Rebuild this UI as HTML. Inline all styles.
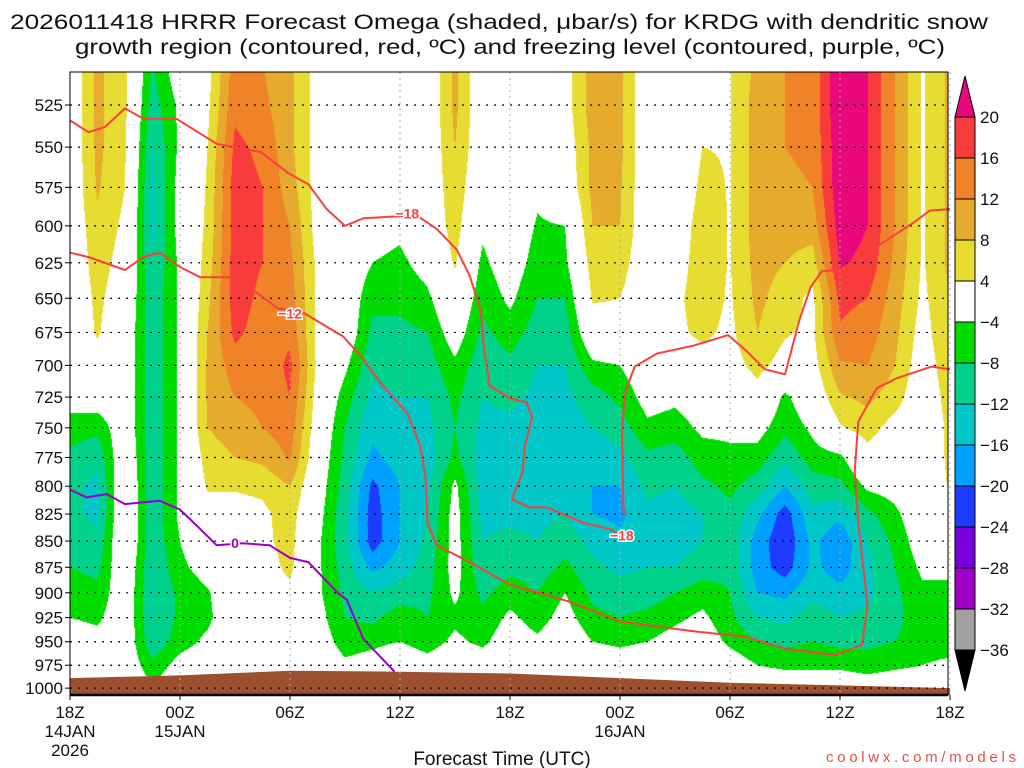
<!DOCTYPE html>
<html><head><meta charset="utf-8"><title>HRRR Omega KRDG</title>
<style>
html,body{margin:0;padding:0;background:#fff;}
#wrap{position:relative;width:1024px;height:768px;overflow:hidden;font-family:"Liberation Sans",sans-serif;}
#field{position:absolute;left:70px;top:72px;}
#ov{position:absolute;left:0;top:0;}
</style></head>
<body>
<div id="wrap">
<canvas id="field" width="878" height="623"></canvas>
<svg id="ov" width="1024" height="768" xmlns="http://www.w3.org/2000/svg"></svg>
</div>
<script>
// ---- data ----
const colHours=[0,1.5,3,4.5,6,7.5,9,10.5,12,13.5,15,16.5,18,19.5,21,22.5,24,25.5,27,28.5,30,31.5,33,34.5,36,37.5,39,40.5,42,43.5,45,46.5,48];
const levels=[500,525,550,575,600,625,650,675,700,725,750,775,800,825,850,875,900,925,950,975,1000];
const omegaCols=[
[0,0,0,0,0,0,0,0,0,-2,-6,-9,-11,-11,-10,-8,-6,-4,-1,0,0],
[9,9,9,8.5,7,6,5,4.5,2,-1,-7,-11,-13,-13,-11,-9,-7,-5,-2,0,0],
[5,5,4.5,4,3,2,1,0,0,0,0,1,2,2,2,1,0,0,0,0,0],
[-8,-10,-12,-13,-13,-12,-11,-11,-11,-11,-11,-11,-11,-11,-11,-12,-12,-12,-11,-7,-3],
[0,-3,-3,-2,-2,-3,-3,-3,-3,-3,-3,-3,-3,-3,-4,-5,-7,-7,-6,-2,0],
[2,3,4,4.5,5,6,7,8,8.5,8.5,8,6,4.5,2,0,-2,-4.5,-5,-3,0,0],
[14,15,17,18,18,18,18,17,14,12,10,8,4.5,2,0,0,0,0,0,0,0],
[12,13,15,16,16,16,15,14,13,13,12,9,5,3,3,2,1,0,0,0,0],
[9,9,9,10,12,13,14,15,17,16,14,12.5,8,6,5.5,5,3,0,0,0,0],
[2,2,2,2,2,3,3,3,3,2,1,0,-1,-2,-3,-3,-3,-2,-1,0,0],
[0,0,0,0,0,0,0,0,-3,-6,-8,-9,-10,-11,-11,-10,-9,-8,-6,-3,0],
[0,0,0,0,-2,-4,-7,-9,-11,-13,-15,-17,-21,-22,-22,-17,-12,-9,-5,-2,0],
[0,0,0,0,-3,-5,-7,-9,-11,-12,-13,-14,-16,-16,-16,-14,-10,-6,-4,0,0],
[0,0,0,0,0,-2,-5,-8,-10,-12,-13,-14,-13,-12,-11,-10,-9,-8,-6,-2,0],
[9,9,8,7,6,4.5,2,-1,-5,-7,-8,-7,-3,-2,-2,-2,-3,-5,-3,0,0],
[0,0,0,-1,-3,-5,-7,-9,-11,-12,-13,-14,-14,-13,-12,-11,-9,-7,-5,-1,0],
[0,0,0,0,0,-1,-3,-6,-9,-11,-13,-14,-14,-13,-11,-9,-6,-3,-1,0,0],
[0,0,0,-3,-4.5,-6,-8,-10,-12,-13,-14,-15,-14,-13,-12,-10,-8,-6,-3,0,0],
[2,2,1,0,-4,-5,-8,-10,-12,-13,-14,-14,-13,-12,-10,-7,-4,-2,0,0,0],
[10,10,9,9,8,6,4.5,1,-5,-10,-12,-15,-16,-16,-13,-11,-9,-7,-4,0,0],
[9,9,9,8.5,8,6,4,2,-4,-7,-10,-13,-16,-17,-15,-13,-10,-8,-5,-1,0],
[0,0,0,0,0,0,0,0,0,-2,-5,-9,-11,-13,-13,-12,-10,-7,-4,0,0],
[0,0,0,0,1,2,3,3,1,-3,-6,-10,-12,-14,-14,-12,-8,-5,-2,0,0],
[0,2,4,5,6,6,6,5,2,-1,-3,-6,-9,-12,-12,-10,-6,-3,-1,0,0],
[3.8,3.8,3.8,3.8,3.8,3.8,3.5,3,2,-1,-3,-5,-7,-9,-9,-9,-8,-7,-5,-1,0],
[9,10,10,10,10,9.5,9,8,5.5,2,-2,-6,-10,-15,-18,-18,-16,-12,-8,-4,0],
[12,12,12,11,10,8,6,4.5,2,-5,-7,-11,-16,-22,-23,-22,-17,-13,-9,-5,0],
[13,13,13,12,10,6,3,3,2,0,-3,-6,-10,-13,-15,-15,-13,-10,-8,-5,0],
[24,24,23,23,22,20.5,17,15.5,11.5,7.5,3.5,-5,-9,-15,-19,-18,-15,-12,-9,-5,0],
[20,20,20,20,20,19,16,14,12,9,6,2,-3,-9,-12,-13,-13,-11,-9,-6,-1],
[12,12,12,12,12,11,10,9,8,6,2,0,-2,-5,-7,-8,-9,-9,-8,-5,0],
[3.5,3.5,3.5,3.5,3.5,3.5,3,2,1,0,0,0,0,0,-1,-3,-5,-6,-6,-4,0],
[9,9,9,9,9,9,8,8,7,6,5,5,4.5,2,0,-3,-5,-6,-6,-3,0]
];
const isoUpperHours=[0,1,1.9,3,4,5.8,8,10.4,11.9,13,14,15,16,18.9,20,21.1,21.8,22.4,22.6,22.9,24,24.9,25.2,24.8,24.7,24.1,25.1,26,28,29.5,30];
const isoUpperPres=[534,541,538,527,533,533,548,553,566,573,589,600,595,593,602,616,634,659,689,716,726,729,742,765,787,812,819,819,833,839,845];
const isoUpper2Hours=[30.2,30.1,30.3,30.8,32,34,35.9,36.9,37.9,39,39.8,40.4,41,42.7,44,46,46.9,48];
const isoUpper2Pres=[826,752,720,701,691,685,677,689,703,707,665,642,631,629,614,598,590,589];
const isoLowerHours=[0,1,3,4,4.9,6,7.1,8.9,10.3,11.3,12.8,14.9,15.8,17,18.4,19.1,19.4,19.5,20,21.8,24,27.1,30,34,36.9,39.1,41.8,43.2,43.5,43,42.8,43,44,45.1,47,48];
const isoLowerPres=[618,621,630,621,618,628,635,635,647,657,661,678,692,715,738,765,794,833,854,870,892,908,929,939,945,958,964,953,912,833,787,745,718,710,701,703];
const frzHours=[0,0.9,2,3,4.9,6,7,8,9.4,10.9,12,13,14.6,15.1,16,17.7];
const frzPres=[803,810,807,816,813,821,837,854,852,854,866,870,900,907,947,982];
const terrainHours=[0,6,12,18,24,30,36,42,48];
const terrainPres=[989,986,981,982,984,989,994,997,1000];
const yTickLabels=[525,550,575,600,625,650,675,700,725,750,775,800,825,850,875,900,925,950,975,1000];
const xTickHours=[0,6,12,18,24,30,36,42,48];
const xTickLine1=["18Z","00Z","06Z","12Z","18Z","00Z","06Z","12Z","18Z"];
const xTickLine2=["14JAN","15JAN","","","","16JAN","","",""];
const xTickLine3=["2026","","","","","","","",""];
const cbarLabels=["20","16","12","8","4","\u22124","\u22128","\u221212","\u221216","\u221220","\u221224","\u221228","\u221232","\u221236"];
const cbarColors=["#f83c3c","#f08228","#e6aa2d","#e6dc32","#ffffff","#00dc00","#00d28c","#00c8c8","#00a0ff","#1e3cff","#7800dc","#a000c8","#a0a0a0"];

// ---- axes ----
const X0=70,X1=948,Y0=72,Y1=695;
function xOf(h){return 70+h*110/6;}
function yOf(p){return 105+905*Math.log(p/525);}
function hOf(x){return (x-70)*6/110;}
function pOf(y){return 525*Math.exp((y-105)/905);}

function colorFor(v){
  if(v>=20)return[232,8,124];
  if(v>=16)return[248,60,60];
  if(v>=12)return[240,130,40];
  if(v>=8)return[230,170,45];
  if(v>=4)return[230,220,50];
  if(v>-4)return null;
  if(v>-8)return[0,220,0];
  if(v>-12)return[0,210,140];
  if(v>-16)return[0,200,200];
  if(v>-20)return[0,160,255];
  if(v>-24)return[30,60,255];
  if(v>-28)return[120,0,220];
  return[160,0,200];
}
function sample(h,p){
  let ci=0;while(ci<colHours.length-2&&h>colHours[ci+1])ci++;
  let tc=(h-colHours[ci])/(colHours[ci+1]-colHours[ci]);tc=Math.max(0,Math.min(1,tc));
  let ri=0;while(ri<levels.length-2&&p>levels[ri+1])ri++;
  let tr=(p-levels[ri])/(levels[ri+1]-levels[ri]);tr=Math.max(0,Math.min(1,tr));
  const a=omegaCols[ci][ri],b=omegaCols[ci+1][ri],c=omegaCols[ci][ri+1],d=omegaCols[ci+1][ri+1];
  return (a*(1-tc)+b*tc)*(1-tr)+(c*(1-tc)+d*tc)*tr;
}
(function(){
  const cv=document.getElementById('field');const ctx=cv.getContext('2d');
  const W=cv.width,H=cv.height;const img=ctx.createImageData(W,H);
  for(let py=0;py<H;py++){const p=pOf(Y0+py+0.5);
    for(let px=0;px<W;px++){const h=hOf(X0+px+0.5);const col=colorFor(sample(h,p));
      const k=(py*W+px)*4;
      if(col){img.data[k]=col[0];img.data[k+1]=col[1];img.data[k+2]=col[2];}
      else{img.data[k]=255;img.data[k+1]=255;img.data[k+2]=255;}
      img.data[k+3]=255;}}
  ctx.putImageData(img,0,0);
})();

const NS="http://www.w3.org/2000/svg";
const svg=document.getElementById('ov');
function mk(tag,attrs,parent){const e=document.createElementNS(NS,tag);for(const k in attrs)e.setAttribute(k,attrs[k]);(parent||svg).appendChild(e);return e;}

// terrain
let tp=`M${xOf(terrainHours[0])},${Y1}`;
terrainHours.forEach((h,i)=>{tp+=` L${xOf(h)},${yOf(terrainPres[i])}`;});
tp+=` L${xOf(terrainHours[terrainHours.length-1])},${Y1} Z`;
const terr=mk('path',{d:tp,fill:'#9c5030'});



// grid
const grid=mk('g',{});


yTickLabels.forEach(p=>{const y=yOf(p);
  mk('line',{x1:X0,x2:X1,y1:y,y2:y,stroke:'#000','stroke-width':1.2,'stroke-dasharray':'2,6'},grid);});
xTickHours.forEach(h=>{const x=xOf(h);
  mk('line',{x1:x,x2:x,y1:Y0,y2:Y1,stroke:'#aaa','stroke-width':1,'stroke-dasharray':'2,4'},grid);});

// contour lines
function poly(hs,ps,color,name){
  const pts=hs.map((h,i)=>xOf(h).toFixed(1)+','+yOf(ps[i]).toFixed(1)).join(' ');
  const e=mk('polyline',{points:pts,fill:'none',stroke:color,'stroke-width':2,'stroke-linejoin':'round'});
  
  
}
poly(isoUpperHours,isoUpperPres,'#f84040','isotherm-minus18-west');
poly(isoUpper2Hours,isoUpper2Pres,'#f84040','isotherm-minus18-east');
poly(isoLowerHours,isoLowerPres,'#f84040','isotherm-minus12');
poly(frzHours,frzPres,'#9a00c8','freezing-level-line');
function clabel(h,p,t,color,name){
  const e=mk('text',{x:xOf(h),y:yOf(p)+5,'text-anchor':'middle','font-size':14,'font-weight':'bold',fill:color,stroke:'#fff','stroke-width':3,'paint-order':'stroke'});
  e.textContent=t;
}
clabel(18.4,592,'\u221218','#f84040','label-minus18-a');
clabel(12,661,'\u221212','#f84040','label-minus12');
clabel(30.1,845,'\u221218','#f84040','label-minus18-b');
clabel(9,852,'0','#9a00c8','label-freezing-0');

// frame
const fr=mk('rect',{x:X0,y:Y0,width:X1-X0,height:Y1-Y0,fill:'none',stroke:'#000','stroke-width':1});

mk('line',{x1:X0,x2:X1,y1:Y1,y2:Y1,stroke:'#000','stroke-width':2.5});

// y axis
const ya=mk('g',{});
yTickLabels.forEach(p=>{const y=yOf(p);
  mk('line',{x1:X0-5,x2:X0,y1:y,y2:y,stroke:'#000','stroke-width':1},ya);
  const t=mk('text',{x:X0-7,y:y+6,'text-anchor':'end','font-size':17,fill:'#111'},ya);t.textContent=p;});

// x axis
const xa=mk('g',{});
xTickHours.forEach((h,i)=>{const x=xOf(h);
  mk('line',{x1:x,x2:x,y1:Y1,y2:Y1+5,stroke:'#000','stroke-width':1},xa);
  [xTickLine1[i],xTickLine2[i],xTickLine3[i]].forEach((s,j)=>{if(!s)return;
    const t=mk('text',{x:x,y:718+j*19,'text-anchor':'middle','font-size':17,fill:'#111'},xa);t.textContent=s;});});
const xt=mk('text',{x:502,y:765,'text-anchor':'middle','font-size':19,fill:'#111'});
xt.textContent='Forecast Time (UTC)';

// colorbar
const cb=mk('g',{});
const CBX=955,CBW=20,CBT=117,CBH=41;
mk('polygon',{points:`${CBX},${CBT} ${CBX+CBW},${CBT} ${CBX+CBW/2},${CBT-41}`,fill:'#e8087c',stroke:'#000','stroke-width':1},cb);
cbarColors.forEach((c,i)=>{mk('rect',{x:CBX,y:CBT+i*CBH,width:CBW,height:CBH,fill:c,stroke:'#000','stroke-width':1},cb);});
const cbB=CBT+cbarColors.length*CBH;
mk('polygon',{points:`${CBX},${cbB} ${CBX+CBW},${cbB} ${CBX+CBW/2},${cbB+41}`,fill:'#000',stroke:'#000','stroke-width':1},cb);
cbarLabels.forEach((s,i)=>{const t=mk('text',{x:CBX+CBW+5,y:CBT+i*CBH+6,'font-size':17,fill:'#111'},cb);t.textContent=s;});

// titles
const t1=mk('text',{x:10,y:29,'font-size':21,fill:'#111',textLength:978,lengthAdjust:'spacingAndGlyphs'});
t1.textContent='2026011418 HRRR Forecast Omega (shaded, \u03bcbar/s) for KRDG with dendritic snow';

const t2=mk('text',{x:75,y:54,'font-size':21,fill:'#111',textLength:870,lengthAdjust:'spacingAndGlyphs'});
t2.textContent='growth region (contoured, red, \u00baC) and freezing level (contoured, purple, \u00baC)';

const cw=mk('text',{x:826,y:762,'font-size':15,fill:'#e05050',textLength:190,lengthAdjust:'spacing'});
cw.textContent='coolwx.com/models';
</script>
</body></html>
